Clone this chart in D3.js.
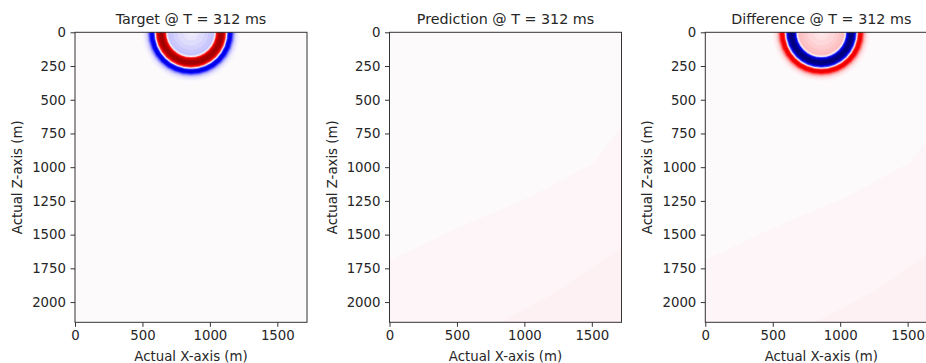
<!DOCTYPE html>
<html>
<head>
<meta charset="utf-8">
<script src="https://cdn.jsdelivr.net/npm/d3@7"></script>
<style>
    body { margin: 0; background: #fff; }
    text { font-family: "DejaVu Sans", sans-serif; fill: #262626; }
</style>
</head>
<body>
<svg id="fig" width="926" height="363"></svg>
<script>
// model extent (m)
const xMax = 1720;
const zMax = 2150;
const xTicks = [0, 500, 1000, 1500];
const zTicks = [0, 250, 500, 750, 1000, 1250, 1500, 1750, 2000];
const titles = ["Target @ T = 312 ms", "Prediction @ T = 312 ms", "Difference @ T = 312 ms"];

// source position (m)
const sourceX = 860;
const sourceZ = 0;

// radial amplitude profile around the source
const ringRadius = [380, 365, 352, 340, 330, 322, 315, 308, 301, 294, 287, 280, 274, 269, 264, 258, 251, 244, 236, 228,
                    220, 212, 204, 197, 190, 184, 178, 170, 155, 130, 100, 60, 30];
const targetRing = [0, -0.01, -0.03, -0.06, -0.12, -0.2, -0.32, -0.45, -0.55, -0.58, -0.55, -0.45, -0.25, 0.0, 0.2, 0.45,
                    0.65, 0.78, 0.85, 0.87, 0.85, 0.8, 0.7, 0.55, 0.35, 0.02, -0.06, -0.11, -0.1, -0.08, -0.06, -0.04, -0.03];
const differenceRing = [0, 0.01, 0.03, 0.06, 0.12, 0.2, 0.32, 0.45, 0.55, 0.58, 0.55, 0.45, 0.25, 0.0, -0.2, -0.45,
                        -0.65, -0.78, -0.85, -0.87, -0.85, -0.8, -0.7, -0.55, -0.35, -0.03, 0.06, 0.12, 0.11, 0.09, 0.07, 0.05, 0.04];

// background levels of the prediction (upper-left, middle band, lower-right band)
const backgroundLevel = [0, 0.01, 0.018];
const bandEdge1 = [[0, 1690], [500, 1450], [1040, 1222], [1510, 970], [1660, 777], [1720, 690]];
const bandEdge2 = [[818, 2150], [1263, 1913], [1720, 1595]];

class WavePanel {
    constructor(svg, idx, left, title) {
        this.svg = svg;
        this.idx = idx;
        this.left = left;
        this.top = 32.3;
        this.title = title;
        this.xScale = d3.scaleLinear().domain([0, xMax]).range([left, left + 232]);
        this.zScale = d3.scaleLinear().domain([0, zMax]).range([this.top, this.top + 290]);
        // seismic 스타일 색상
        this.color = d3.scaleLinear()
            .domain([-1, -0.5, 0, 0.5, 1])
            .range(["#00004c", "#0000ff", "#fdfafc", "#ff0000", "#800000"])
            .clamp(true);
    }

    draw(levels, ring) {
        const g = this.svg.append("g");
        const clipId = `clip-${this.idx}`;
        this.svg.append("clipPath").attr("id", clipId)
            .append("rect")
            .attr("x", this.xScale(0)).attr("y", this.zScale(0))
            .attr("width", this.xScale(xMax) - this.xScale(0))
            .attr("height", this.zScale(zMax) - this.zScale(0));
        const img = g.append("g").attr("clip-path", `url(#${clipId})`);

        // 배경
        img.append("rect")
            .attr("x", this.xScale(0)).attr("y", this.zScale(0))
            .attr("width", this.xScale(xMax) - this.xScale(0))
            .attr("height", this.zScale(zMax) - this.zScale(0))
            .style("fill", this.color(levels[0]));
        const bands = [
            bandEdge1.concat([[xMax, zMax], [0, zMax]]),
            bandEdge2.concat([[xMax, zMax]])
        ];
        img.selectAll("path.band")
            .data(bands)
            .join("path")
            .attr("class", "band")
            .attr("d", d => d3.line().x(p => this.xScale(p[0])).y(p => this.zScale(p[1]))(d) + "Z")
            .style("fill", (d, i) => this.color(levels[i + 1]));

        // 파면 (바깥 원부터)
        if (ring) {
            img.selectAll("circle.ring")
                .data(ringRadius.map((r, i) => [r, ring[i]]))
                .join("circle")
                .attr("class", "ring")
                .attr("cx", this.xScale(sourceX))
                .attr("cy", this.zScale(sourceZ))
                .attr("r", d => this.xScale(d[0]) - this.xScale(0))
                .style("fill", d => this.color(d[1]));
        }

        // 축
        const xAxis = g.append("g")
            .attr("transform", `translate(0, ${this.zScale(zMax)})`)
            .call(d3.axisBottom(this.xScale).tickValues(xTicks).tickSize(4.5).tickPadding(3.5).tickFormat(d3.format("d")));
        const yAxis = g.append("g")
            .attr("transform", `translate(${this.xScale(0)}, 0)`)
            .call(d3.axisLeft(this.zScale).tickValues(zTicks).tickSize(4.5).tickPadding(4.5).tickFormat(d3.format("d")));
        [xAxis, yAxis].forEach(a => {
            a.select(".domain").remove();
            a.selectAll("line").style("stroke", "#333").style("stroke-width", 1);
            a.selectAll("text").style("font-size", "13.3px").style("fill", "#262626");
        });
        g.append("rect")
            .attr("x", this.xScale(0)).attr("y", this.zScale(0))
            .attr("width", this.xScale(xMax) - this.xScale(0))
            .attr("height", this.zScale(zMax) - this.zScale(0))
            .style("fill", "none").style("stroke", "#333").style("stroke-width", 1);

        // 제목, 축 이름
        g.append("text")
            .attr("x", (this.xScale(0) + this.xScale(xMax)) / 2)
            .attr("y", 23.5)
            .attr("text-anchor", "middle")
            .style("font-size", "14.3px")
            .text(this.title);
        g.append("text")
            .attr("x", (this.xScale(0) + this.xScale(xMax)) / 2)
            .attr("y", 360.5)
            .attr("text-anchor", "middle")
            .style("font-size", "13.3px")
            .text("Actual X-axis (m)");
        g.append("text")
            .attr("transform", `translate(${this.left - 53}, ${(this.zScale(0) + this.zScale(zMax)) / 2}) rotate(-90)`)
            .attr("text-anchor", "middle")
            .style("font-size", "13.3px")
            .text("Actual Z-axis (m)");
    }
}

const svg = d3.select("#fig");
const lefts = [75, 389.5, 705.3];
new WavePanel(svg, 0, lefts[0], titles[0]).draw([0, 0, 0], targetRing);
new WavePanel(svg, 1, lefts[1], titles[1]).draw(backgroundLevel, null);
new WavePanel(svg, 2, lefts[2], titles[2]).draw(backgroundLevel, differenceRing);
</script>
</body>
</html>
